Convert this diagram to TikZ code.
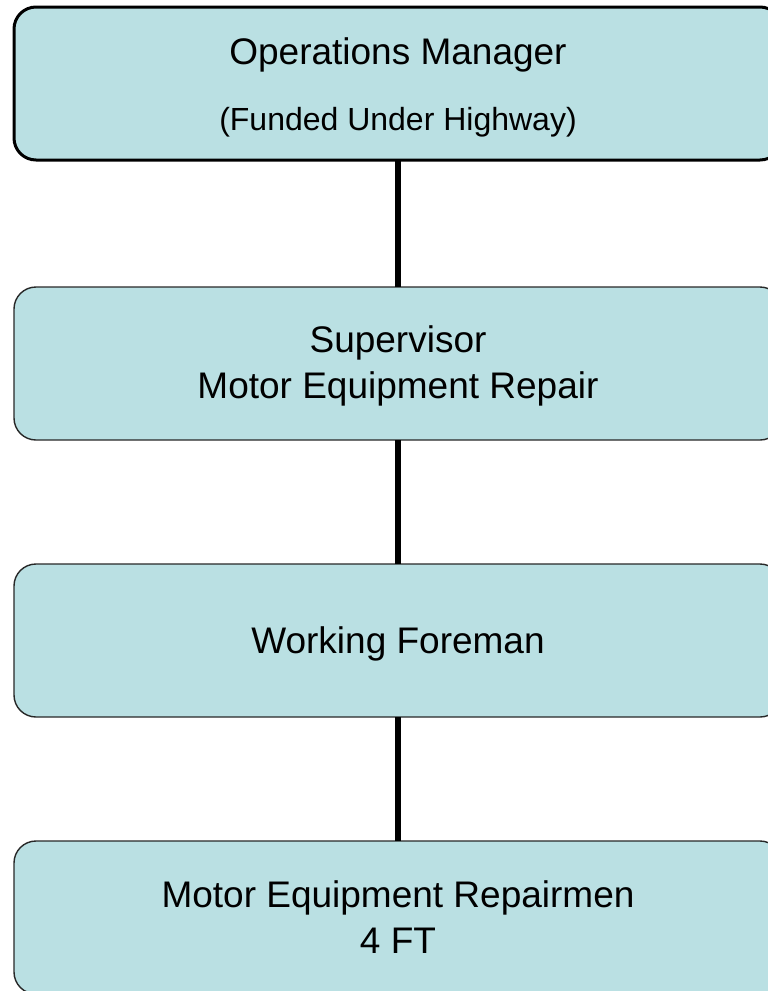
\documentclass[tikz,border=0pt]{standalone}
\usepackage{fontspec}
\setmainfont{Liberation Sans}
\definecolor{boxfill}{RGB}{186,224,227}
\definecolor{boxline}{RGB}{40,40,40}
\tikzset{
  orgbox/.style={draw=boxline, line width=1.4pt, fill=boxfill, rounded corners=22pt,
    minimum width=768pt, minimum height=153pt, inner sep=0pt, outer sep=0pt,
    align=center, font=\fontsize{37}{46}\selectfont},
  topbox/.style={orgbox, draw=black, line width=3pt},
  link/.style={line width=6pt, draw=black}
}
\newcommand{\dropline}[1]{\rule{0pt}{#1}}
\begin{document}
\begin{tikzpicture}[x=1pt,y=-1pt]
\useasboundingbox (0,0) rectangle (768,991);
\node[topbox] (om) at (398,83.5) {\dropline{35pt}Operations Manager\\[20pt]{\fontsize{32}{38}\selectfont (Funded Under Highway)}};
\node[orgbox] (sup) at (398,363.5) {\dropline{31pt}Supervisor\\Motor Equipment Repair};
\node[orgbox] (wf) at (398,640.5) {\dropline{33pt}Working Foreman};
\node[orgbox] (mer) at (398,917.5) {\dropline{26pt}Motor Equipment Repairmen\\4 FT};
\draw[link] (om.south) -- (sup.north);
\draw[link] (sup.south) -- (wf.north);
\draw[link] (wf.south) -- (mer.north);
\end{tikzpicture}
\end{document}
